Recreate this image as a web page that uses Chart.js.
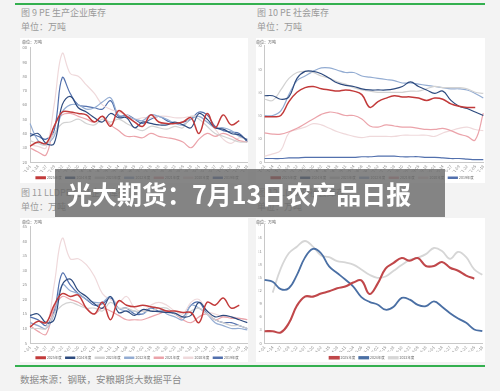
<!DOCTYPE html>
<html lang="zh">
<head>
<meta charset="UTF-8">
<title>光大期货：7月13日农产品日报</title>
<script src="https://cdn.jsdelivr.net/npm/chart.js"></script>
<style>
  body { margin: 0; width: 500px; height: 391px; background: #f3f3f3; position: relative; overflow: hidden;
         font-family: "Noto Sans CJK SC", sans-serif; }
  .rule { position: absolute; left: 15px; width: 470px; height: 2px; background: #34b04f; }
  .cap { position: absolute; font-size: 9px; color: #9a9a9a; white-space: nowrap; line-height: 1; }
  .panel { position: absolute; background: #fff; overflow: hidden; }
  .banner { position: absolute; left: 55px; top: 169px; width: 390px; height: 48px; background: rgba(104,104,104,0.8);
            color: #fff; font-weight: bold; font-size: 25px; line-height: 48px; padding-left: 12px; box-sizing: border-box;
            white-space: nowrap; }
</style>
</head>
<body>
  <div class="rule" style="top:3px"></div>
  <div class="cap" style="left:21px;top:8px">图 9 PE 生产企业库存</div>
  <div class="cap" style="left:21px;top:22px">单位：万吨</div>
  <div class="cap" style="left:257px;top:8px">图 10 PE 社会库存</div>
  <div class="cap" style="left:257px;top:22px">单位：万吨</div>
  <div class="cap" style="left:21px;top:188px">图 11 LLDPE 生产企业库存</div>
  <div class="cap" style="left:21px;top:202px">单位：万吨</div>
  <div class="cap" style="left:257px;top:188px">图 12 LLDPE 社会库存</div>
  <div class="cap" style="left:257px;top:202px">单位：万吨</div>

  <div class="panel" style="left:20px;top:38px;width:228px;height:145px"><canvas id="c1" width="233" height="145"></canvas></div>
  <div class="panel" style="left:256px;top:38px;width:229px;height:145px"><canvas id="c2" width="233" height="145"></canvas></div>
  <div class="panel" style="left:20px;top:218px;width:228px;height:144px"><canvas id="c3" width="233" height="144"></canvas></div>
  <div class="panel" style="left:256px;top:218px;width:229px;height:144px"><canvas id="c4" width="232" height="144"></canvas></div>

  <div class="rule" style="top:365px"></div>
  <div class="cap" style="left:20px;top:375px;font-size:9.5px;color:#8a8a8a">数据来源：钢联，安粮期货大数据平台</div>

  <div class="banner">光大期货：7月13日农产品日报</div>

<script>
  const labels = ['01-01', '01-14', '01-27', '02-09', '02-22', '03-07', '03-20', '04-02', '04-15', '04-28',
    '05-11', '05-24', '06-06', '06-19', '07-02', '07-15', '07-28', '08-10', '08-23', '09-05',
    '09-18', '10-01', '10-14', '10-27', '11-09', '11-22', '12-05', '12-18']
  const years = ['2025年度', '2024年度', '2023年度', '2022年度', '2021年度', '2020年度', '2019年度']

  // 图9 PE 生产企业库存
  const peProd2025 = [31, 34, 33, 45, 55, 55, 54, 53, 48, 52, 45, 56, 52, 48, 45, 53, 48, 47, 47, 48, 51, 40, 54, 44, 53, 46, 49, null]
  const peProd2024 = [38, 40, 33, 33, 60, 66, 58, 55, 51, 48, 54, 51, 51, 44, 48, 47, 46, 46, 48, 46, 44, 54, 50, 44, 43, 40, 39, 35]
  const peProd2023 = [35, 33, 32, 40, 47, 48, 50, 47, 46, 50, 48, 50, 47, 44, 42, 45, 44, 43, 45, 44, 52, 50, 45, 40, 38, 36, 34, 34]
  const peProd2022 = [47, 35, 33, 38, 55, 60, 60, 57, 58, 62, 65, 53, 52, 50, 49, 53, 52, 50, 47, 46, 50, 52, 48, 44, 44, 42, 38, 36]
  const peProd2021 = [30, 27, 25, 45, 53, 54, 52, 50, 48, 52, 46, 42, 38, 38, 37, 40, 38, 37, 36, 34, 30, 36, 40, 38, 40, 38, 35, 34]
  const peProd2020 = [32, 31, 30, 60, 96, 82, 80, 74, 68, 60, 57, 55, 53, 50, 51, 51, 52, 52, 51, 51, 52, 52, 48, 43, 36, 33, 37, 36]
  const peProd2019 = [40, 38, 36, 42, 79, 68, 60, 59, 58, 57, 63, 52, 53, 50, 47, 50, 52, 49, 47, 48, 50, 55, 53, 45, 42, 41, 40, 34]

  // 图10 PE 社会库存
  const peSoc2025 = [39, 39, 40, 52, 60, 64, 65, 63, 62, 61, 62, 61, 58, 47, 52, 55, 57, 56, 56, 55, 53, 55, 54, 50, 48, 47, 47, null]
  const peSoc2024 = [57, 57, 54, 56, 72, 78, 78, 76, 72, 68, 66, 65, 63, 62, 62, 62, 63, 65, 69, 65, 62, 59, 61, 53, 48, 46, 43, 40]
  const peSoc2023 = [54, 53, 62, 72, 77, 78, 77, 74, 72, 69, 67, 64, 62, 61, 60, 60, 60, 60, 61, 61, 63, 65, 64, 64, 64, 63, 60, 59]
  const peSoc2022 = [40, 40, 44, 58, 70, 74, 78, 81, 81, 79, 77, 77, 74, 73, 72, 71, 70, 68, 68, 67, 66, 65, 64, 63, 63, 62, 59, 55]
  const peSoc2021 = [25, 24, 24, 26, 29, 33, 37, 41, 43, 42, 40, 40, 37, 31, 30, 32, 31, 30, 30, 29, 28, 28, 29, 27, 24, 22, 19, 42]
  const peSoc2020 = [5, 7, 10, 25, 28, 30, 33, 32, 29, 26, 24, 22, 21, 22, 22, 22, 22, 23, 23, 23, 23, 22, 25, 27, 29, 30, 28, 27]
  const peSoc2019 = [3, 3, 3, 3.5, 3.5, 4, 4, 4, 4, 4, 4, 4, 4.5, 4.5, 5, 5, 5, 4.5, 4.5, 4.5, 4, 4, 3.5, 3, 3, 2.5, 2, 2]

  // 图11 LLDPE 生产企业库存
  const llProd2025 = [10.5, 12.5, 12, 18, 22, 21, 21.5, 17, 15, 19, 13, 19.5, 18, 17.5, 18, 17.5, 17, 16, 16, 15.5, 15.5, 12, 19, 18, 20.5, 17, 18, null]
  const llProd2024 = [14.5, 15, 12, 13, 25, 27, 23, 21, 18.5, 17, 21, 15.5, 16, 14.5, 16.5, 16, 15.8, 15.5, 15.3, 14, 14.5, 19, 16, 14, 14.5, 14, 13, 12]
  const llProd2023 = [10, 10, 10, 15, 18, 19, 18, 17, 17, 16, 19, 17, 17, 16, 16, 16, 17, 17, 15, 14, 16, 17, 15, 13, 12, 11, 11, 10]
  const llProd2022 = [12, 11, 10, 15, 25, 23, 22, 20, 19, 19, 21, 17, 16, 16, 15, 17, 17, 15, 14, 13, 18, 17, 15, 12, 11, 10, 10, 9.5]
  const llProd2021 = [11, 9, 8, 17, 21, 20, 19, 17, 15, 17, 16, 14.5, 13, 13, 13, 14, 15, 16, 15, 13, 12, 14, 15, 13, 14, 13.5, 13.5, 13]
  const llProd2020 = [12, 11, 10, 25, 41, 34, 34, 32, 28, 22, 20, 19, 21, 17, 16, 18, 19, 18, 16, 15, 19, 20, 16, 15, 14, 14, 13.5, 13]
  const llProd2019 = [14, 13, 11, 16, 29, 25, 22, 20, 18, 18.5, 20.5, 17, 17, 15, 15, 17, 16, 16, 15, 14, 18, 19, 15, 13, 12, 12, 11, 10]

  // 图12 LLDPE 社会库存
  const llSoc2025 = [2.7, 2.7, 2.4, 4.5, 8.5, 10.6, 10.6, 11.3, 11.8, 12.5, 12.9, 13.8, 14.3, 11.2, 13.5, 17, 18.3, 19.4, 18.8, 19.4, 17.6, 17.6, 18.5, 17.2, 16.5, 15.4, 14.7, null]
  const llSoc2024 = [14.4, 14, 12.3, 12.5, 15.5, 19.5, 21.5, 20.5, 17.5, 16, 14.5, 12.9, 10.5, 9.4, 8.8, 7.6, 8.3, 10.3, 9.9, 8.7, 8.4, 9.5, 8.3, 6.8, 5.6, 4.6, 3.1, 2.7]
  const llSoc2023 = [null, 11.5, 17, 20.5, 22, 23.3, 22, 20, 19.6, 18.7, 18.4, 17.9, 16.8, 15.6, 14.9, 15.2, 16.5, 17.8, 19, 19.5, 20.3, 21.7, 21, 19.2, 20.8, 19.6, 16.8, 15.6]

  const colors = ['#c23a3a', '#2d4a7e', '#d2d2d2', '#93acd2', '#eba3aa', '#efd9db', '#5270ad']

  const makeSets = (arrs, names, cols, width) => arrs.map((d, i) => ({
    label: names[i],
    data: d,
    borderColor: cols[i],
    backgroundColor: cols[i],
    borderWidth: i === 0 ? width + 0.3 : width,
    pointRadius: 0,
    tension: 0.4,
    spanGaps: false
  }))

  const makeChart = (id, sets, yMin, yMax, step, g) => new Chart(document.getElementById(id), {
    type: 'line',
    data: { labels: labels, datasets: sets },
    options: {
      responsive: false,
      animation: false,
      devicePixelRatio: 1,
      layout: { padding: { left: g.padL, right: 0, top: 1, bottom: 0 } },
      plugins: {
        title: {
          display: true, text: '单位：万吨', align: 'start', color: '#999',
          font: { size: 4 }, padding: { top: 1, bottom: g.titleB }
        },
        legend: {
          position: 'bottom',
          maxHeight: g.legH,
          labels: { boxWidth: 9, boxHeight: 1.5, padding: 4, color: '#666', font: { size: 3.5 } }
        },
        tooltip: { enabled: false }
      },
      scales: {
        x: {
          grid: { display: false, drawTicks: false },
          border: { color: '#c8c8c8' },
          ticks: { color: '#888', font: { size: 4 }, maxRotation: 50, minRotation: 50, autoSkip: false, padding: 2 },
          afterFit: s => { s.height = g.xH }
        },
        y: {
          min: yMin, max: yMax,
          grid: { display: false, drawTicks: true, tickLength: 2 },
          border: { color: '#c8c8c8' },
          ticks: { stepSize: step, color: '#888', font: { size: 4 }, padding: 1 },
          afterFit: s => { s.width = g.yW }
        }
      }
    }
  })

  Chart.defaults.font.family = '"Noto Sans CJK SC", sans-serif'

  makeChart('c1', makeSets([peProd2025, peProd2024, peProd2023, peProd2022, peProd2021, peProd2020, peProd2019], years, colors, 1.2),
    20, 100, 10, { padL: 2, yW: 8, xH: 10, legH: 11, titleB: 3 })
  makeChart('c2', makeSets([peSoc2025, peSoc2024, peSoc2023, peSoc2022, peSoc2021, peSoc2020, peSoc2019], years, colors, 1.2),
    0, 100, 20, { padL: 0, yW: 6, xH: 10, legH: 11, titleB: 1 })
  makeChart('c3', makeSets([llProd2025, llProd2024, llProd2023, llProd2022, llProd2021, llProd2020, llProd2019], years, colors, 1.2),
    5, 45, 5, { padL: 2, yW: 8, xH: 9, legH: 10, titleB: 2 })
  makeChart('c4', makeSets([llSoc2025, llSoc2024, llSoc2023], years, ['#c0474a', '#4a6fa4', '#d6d6d6'], 1.8),
    0, 27, 3, { padL: 0, yW: 6, xH: 9, legH: 10, titleB: 0 })
</script>
</body>
</html>
